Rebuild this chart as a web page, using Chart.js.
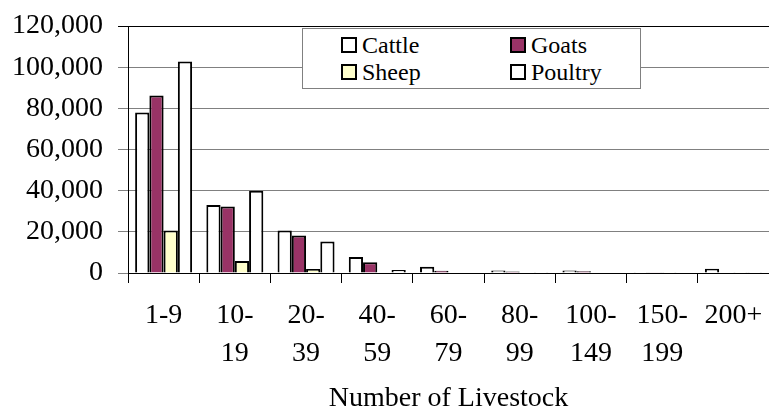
<!DOCTYPE html>
<html>
<head>
    <meta charset="UTF-8">
    <title>Number of Livestock</title>
    <script src="https://cdn.jsdelivr.net/npm/chart.js"></script>
    <style>
        body { margin: 0; background: #fff; }
        #wrap { position: relative; width: 769px; height: 413px; }
        #legend {
            position: absolute; left: 302px; top: 28px; width: 339px; height: 61px;
            box-sizing: border-box; border: 1px solid #808080; background: #fff;
            font-family: "Liberation Serif", serif; font-size: 24px; color: #000;
        }
        .item { position: absolute; height: 20px; line-height: 20px; display: flex; align-items: center; white-space: nowrap; }
        .box { width: 16px; height: 16px; box-sizing: border-box; border: 2px solid #000; margin-right: 5px; }
    </style>
</head>
<body>
<div id="wrap">
    <canvas id="chart" width="769" height="413"></canvas>
    <div id="legend"></div>
</div>
<script>
    const categories = [['1-9'], ['10-', '19'], ['20-', '39'], ['40-', '59'], ['60-', '79'],
        ['80-', '99'], ['100-', '149'], ['150-', '199'], ['200+']];
    const seriesNames = ['Cattle', 'Goats', 'Sheep', 'Poultry'];
    const cattle = [78000, 33000, 20700, 7800, 3000, 1200, 1200, 400, 2100];
    const goats = [86200, 32300, 18200, 5200, 1100, 700, 900, 400, 300];
    const sheep = [20600, 5800, 1900, 200, 300, 300, 200, 100, 100];
    const poultry = [102800, 40000, 15300, 1500, 300, 400, 300, 300, 100];
    const yTicks = [0, 20000, 40000, 60000, 80000, 100000, 120000];
    const colors = ['#ffffff', '#993366', '#ffffcc', '#ffffff'];

    const serif = 'Liberation Serif';
    const values = [cattle, goats, sheep, poultry];

    const chart = new Chart(document.getElementById('chart'), {
        type: 'bar',
        data: {
            labels: categories,
            datasets: seriesNames.map((name, i) => ({
                label: name,
                data: values[i],
                backgroundColor: colors[i],
                borderColor: '#000',
                borderWidth: 2,
                borderSkipped: 'bottom',
                barPercentage: 1,
                categoryPercentage: 0.8
            }))
        },
        options: {
            responsive: false,
            animation: false,
            devicePixelRatio: 1,
            layout: { padding: { top: 26, right: 0, bottom: 0, left: 0 } },
            plugins: { legend: { display: false }, tooltip: { enabled: false } },
            scales: {
                x: {
                    grid: { drawOnChartArea: false, drawTicks: true, tickLength: 10, color: '#000' },
                    border: { color: '#000', width: 1 },
                    ticks: {
                        color: '#000', padding: 13, maxRotation: 0, autoSkip: false,
                        font: { family: serif, size: 28, lineHeight: 1.375 }
                    },
                    title: {
                        display: true, text: 'Number of Livestock', color: '#000',
                        padding: { top: 0, bottom: 0 },
                        font: { family: serif, size: 28, lineHeight: 1 }
                    },
                    afterFit: s => { s.height = 140; s.paddingLeft = 0; s.paddingRight = 0; }
                },
                y: {
                    min: 0, max: 120000,
                    afterBuildTicks: s => { s.ticks = yTicks.map(v => ({ value: v })); },
                    grid: {
                        tickLength: 10,
                        color: c => c.tick && c.tick.value === 120000 ? '#000' : '#808080'
                    },
                    border: { color: '#000', width: 1 },
                    ticks: {
                        color: '#000', padding: 15,
                        font: { family: serif, size: 28 },
                        callback: v => v.toLocaleString('en-US')
                    },
                    // the top label may sit in the layout padding
                    afterFit: s => { s.width = 128; s.paddingTop = 0; s.paddingBottom = 0; }
                }
            }
        }
    });

    // legend box drawn over the plot, two columns
    const legend = document.getElementById('legend');
    seriesNames.forEach((name, i) => {
        const item = document.createElement('div');
        item.className = 'item';
        item.style.left = (38 + (i % 2) * 169) + 'px';
        item.style.top = (6 + Math.floor(i / 2) * 27) + 'px';
        item.innerHTML = `<span class="box" style="background:${colors[i]}"></span>${name}`;
        legend.appendChild(item);
    });
</script>
</body>
</html>
